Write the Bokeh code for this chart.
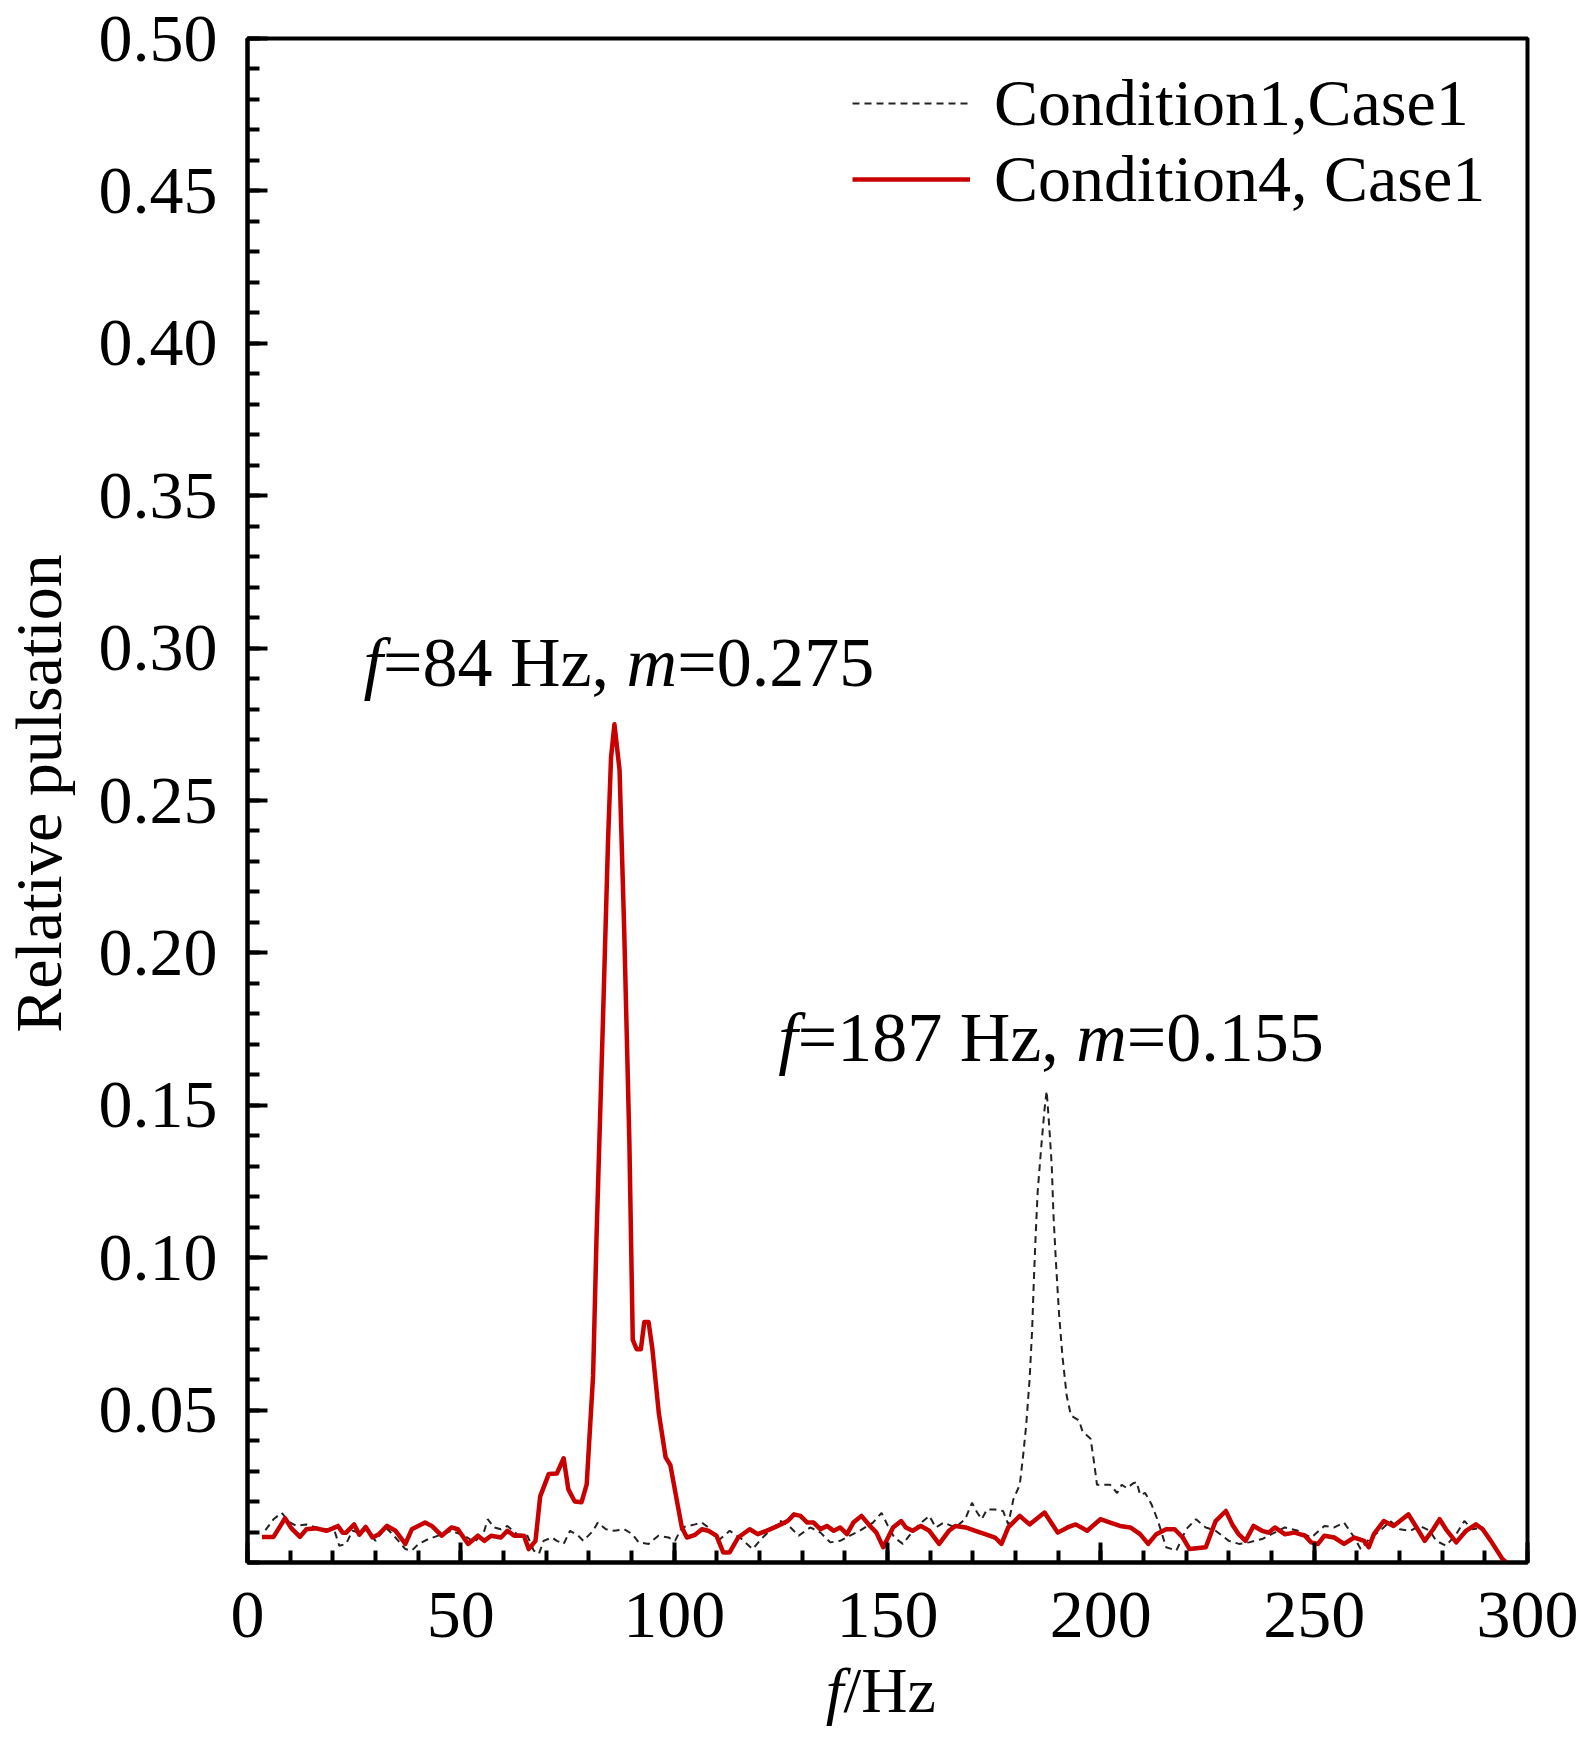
import math
from bokeh.plotting import figure
from bokeh.models import (Range1d, FixedTicker, PrintfTickFormatter, Legend, LegendItem)
from bokeh.layouts import row, column
from bokeh.core.properties import value
from bokeh.embed import file_html
from bokeh.resources import INLINE

# ---------------- data ----------------
freq_c1 = [4.2, 6.1, 8.0, 10.0, 11.5, 13.8, 16.1, 18.5, 20.4, 21.5, 23.1, 24.6, 26.2, 28.1, 30.0,
           32.4, 34.3, 37.0, 38.5, 40.1, 42.4, 44.7, 47.8, 50.9, 53.2, 55.5, 56.3, 57.8, 59.4, 60.9,
           63.2, 65.6, 67.1, 68.3, 69.4, 71.4, 72.5, 74.1, 75.6, 77.5, 78.7, 81.0, 82.1, 84.0, 86.0,
           88.3, 90.2, 91.7, 94.0, 96.3, 98.7, 100.2, 101.8, 104.9, 106.5, 108.0, 110.3, 113.0, 115.8,
           118.4, 120.4, 122.7, 125.0, 126.9, 129.2, 131.9, 134.3, 136.6, 138.9, 141.2, 143.5, 146.6,
           148.6, 150.1, 151.6, 153.6, 155.1, 157.4, 159.8, 161.3, 163.2, 165.9, 168.2, 169.8, 171.0,
           172.1, 173.3, 175.2, 177.1, 178.3, 179.5, 181.0, 181.8, 182.5, 183.3, 183.9, 184.3, 184.7,
           185.2, 186.0, 186.8, 187.3, 187.9, 188.5, 188.9, 189.5, 190.2, 191.0, 192.0, 193.0, 194.9,
           195.7, 197.6, 198.4, 199.1, 199.9, 202.2, 203.8, 204.9, 206.1, 207.6, 208.4, 209.2, 210.4,
           211.9, 213.4, 215.3, 217.7, 220.0, 222.3, 224.6, 226.9, 230.0, 232.4, 234.7, 237.8, 240.0,
           243.1, 246.2, 249.3, 252.4, 254.7, 257.0, 259.4, 260.9, 263.2, 265.5, 267.8, 270.1, 272.5,
           274.8, 277.1, 278.6, 280.9, 283.3, 285.2, 287.1, 289.5, 291.0, 292.6]
puls_c1 = [0.0106, 0.0142, 0.0163, 0.0131, 0.0120, 0.0125, 0.0115, 0.0109, 0.0104, 0.0055, 0.0061,
           0.0104, 0.0098, 0.0109, 0.0071, 0.0115, 0.0088, 0.0044, 0.0039, 0.0061, 0.0077, 0.0088,
           0.0104, 0.0088, 0.0066, 0.0104, 0.0142, 0.0115, 0.0109, 0.0120, 0.0093, 0.0088, 0.0039,
           0.0028, 0.0071, 0.0082, 0.0071, 0.0061, 0.0104, 0.0088, 0.0071, 0.0104, 0.0131, 0.0109,
           0.0104, 0.0109, 0.0093, 0.0066, 0.0061, 0.0088, 0.0082, 0.0071, 0.0115, 0.0125, 0.0131,
           0.0115, 0.0071, 0.0104, 0.0077, 0.0044, 0.0077, 0.0109, 0.0136, 0.0120, 0.0088, 0.0115,
           0.0098, 0.0066, 0.0071, 0.0088, 0.0104, 0.0131, 0.0163, 0.0120, 0.0082, 0.0061, 0.0088,
           0.0125, 0.0153, 0.0115, 0.0131, 0.0115, 0.0142, 0.0196, 0.0164, 0.0142, 0.0174, 0.0174,
           0.0169, 0.0125, 0.0207, 0.0255, 0.0352, 0.0450, 0.0600, 0.0763, 0.0925, 0.1066, 0.1217,
           0.1358, 0.1487, 0.1547, 0.1433, 0.1300, 0.1140, 0.0980, 0.0817, 0.0677, 0.0547, 0.0482,
           0.0466, 0.0430, 0.0406, 0.0330, 0.0255, 0.0255, 0.0255, 0.0228, 0.0255, 0.0244, 0.0260,
           0.0264, 0.0222, 0.0228, 0.0190, 0.0136, 0.0050, 0.0039, 0.0109, 0.0142, 0.0115, 0.0104,
           0.0071, 0.0061, 0.0066, 0.0077, 0.0093, 0.0115, 0.0104, 0.0082, 0.0120, 0.0115, 0.0131,
           0.0082, 0.0044, 0.0082, 0.0104, 0.0136, 0.0109, 0.0104, 0.0120, 0.0104, 0.0071, 0.0055,
           0.0093, 0.0136, 0.0109, 0.0115, 0.0082, 0.0050]

freq_c4 = [3.4, 6.1, 8.8, 10.3, 12.3, 13.8, 16.1, 18.5, 20.0, 21.2, 22.3, 23.1, 25.0, 26.2, 27.7,
           29.3, 30.8, 32.7, 34.7, 37.0, 38.5, 41.6, 43.2, 45.5, 47.8, 49.3, 51.7, 54.0, 55.5, 57.1,
           59.4, 60.9, 62.5, 64.8, 65.9, 67.5, 68.6, 70.6, 72.5, 74.1, 75.2, 76.7, 78.3, 79.5, 81.0,
           81.8, 83.3, 84.5, 85.2, 86.0, 87.2, 88.3, 89.5, 90.3, 91.2, 92.2, 93.0, 94.0, 94.9, 96.4,
           98.0, 99.1, 100.7, 101.8, 103.0, 104.9, 106.5, 108.0, 109.9, 111.5, 113.0, 115.0, 117.7,
           119.6, 121.6, 123.5, 125.0, 126.6, 128.1, 129.6, 131.2, 132.7, 134.3, 135.8, 137.4, 138.9,
           140.5, 142.0, 143.9, 145.9, 147.4, 149.0, 151.3, 153.2, 154.3, 155.9, 157.8, 159.8, 162.1,
           164.4, 165.9, 168.3, 170.6, 172.9, 175.2, 176.7, 178.3, 181.0, 183.3, 186.8, 189.9, 192.2,
           194.1, 196.8, 199.9, 202.2, 204.5, 206.9, 209.2, 211.1, 213.0, 215.3, 217.3, 219.2, 220.8,
           224.6, 226.9, 229.3, 230.8, 232.3, 233.9, 235.8, 237.8, 239.3, 240.8, 243.1, 245.4, 247.8,
           249.3, 250.9, 252.4, 254.7, 257.0, 259.4, 261.7, 262.8, 264.0, 266.3, 268.6, 270.1, 272.1,
           274.0, 275.9, 277.9, 279.4, 280.9, 283.3, 285.6, 287.9, 289.5, 291.4, 294.1, 295.0]
puls_c4 = [0.0084, 0.0084, 0.0145, 0.0112, 0.0084, 0.0109, 0.0112, 0.0104, 0.0112, 0.0120, 0.0098,
           0.0098, 0.0125, 0.0091, 0.0117, 0.0082, 0.0093, 0.0120, 0.0104, 0.0061, 0.0109, 0.0131,
           0.0120, 0.0088, 0.0115, 0.0109, 0.0061, 0.0088, 0.0071, 0.0088, 0.0082, 0.0104, 0.0088,
           0.0088, 0.0044, 0.0071, 0.0217, 0.0290, 0.0292, 0.0342, 0.0240, 0.0200, 0.0198, 0.0256,
           0.0613, 0.1065, 0.1775, 0.2367, 0.2640, 0.2750, 0.2600, 0.2070, 0.1380, 0.0730, 0.0700,
           0.0700, 0.0789, 0.0789, 0.0700, 0.0490, 0.0345, 0.0320, 0.0198, 0.0115, 0.0082, 0.0091,
           0.0109, 0.0104, 0.0088, 0.0033, 0.0033, 0.0082, 0.0109, 0.0093, 0.0104, 0.0115, 0.0125,
           0.0136, 0.0158, 0.0153, 0.0131, 0.0131, 0.0109, 0.0120, 0.0104, 0.0115, 0.0093, 0.0131,
           0.0153, 0.0120, 0.0098, 0.0050, 0.0115, 0.0136, 0.0115, 0.0104, 0.0120, 0.0104, 0.0061,
           0.0104, 0.0120, 0.0115, 0.0104, 0.0093, 0.0082, 0.0061, 0.0115, 0.0153, 0.0125, 0.0164,
           0.0098, 0.0115, 0.0125, 0.0104, 0.0142, 0.0131, 0.0120, 0.0115, 0.0093, 0.0061, 0.0093,
           0.0109, 0.0109, 0.0082, 0.0044, 0.0050, 0.0136, 0.0169, 0.0125, 0.0093, 0.0071, 0.0120,
           0.0104, 0.0098, 0.0115, 0.0093, 0.0098, 0.0088, 0.0066, 0.0061, 0.0088, 0.0082, 0.0061,
           0.0082, 0.0071, 0.0050, 0.0093, 0.0136, 0.0120, 0.0136, 0.0158, 0.0115, 0.0071, 0.0109,
           0.0142, 0.0109, 0.0066, 0.0104, 0.0125, 0.0109, 0.0071, 0.0012, 0.0000]

series_names = ["Condition1,Case1", "Condition4, Case1"]
x_ticks = [0, 50, 100, 150, 200, 250, 300]
y_ticks = [0.05, 0.10, 0.15, 0.20, 0.25, 0.30, 0.35, 0.40, 0.45, 0.50]
x_title = [(True, "f"), (False, "/Hz")]
y_title = "Relative pulsation"
# annotation pieces: (italic?, text), anchored (text middle) at (frequency, pulsation)
ann1 = [(True, "f"), (False, "=84 Hz, "), (True, "m"), (False, "=0.275")]
ann1_pos = (27.2, 0.2952)
ann2 = [(True, "f"), (False, "=187 Hz, "), (True, "m"), (False, "=0.155")]
ann2_pos = (124.4, 0.1723)

FONT = "Liberation Serif"
TOTAL_H = 1726
YT_W = 90                     # width of the y-title strip
COL_W = 1579 - YT_W           # 1489
FRAME_L = 247 - YT_W          # 157
FRAME_R_BORDER = 52
MAIN_H = 1654                 # frame bottom at 1562, room for x tick labels
XT_H = TOTAL_H - MAIN_H       # strip for the x title

CHAR_W = {"f": 0.278, "m": 0.722, "=": 0.564, " ": 0.25, "H": 0.722, "z": 0.444, ",": 0.25,
          ".": 0.25, "/": 0.278}
def text_w(s, size):
    return sum(CHAR_W.get(c, 0.5) for c in s) * size

# ---------------- main plot ----------------
p = figure(width=COL_W, height=MAIN_H, output_backend="svg", toolbar_location=None,
           x_range=Range1d(0, 300), y_range=Range1d(0, 0.5),
           min_border_left=FRAME_L, min_border_right=FRAME_R_BORDER,
           min_border_top=38, min_border_bottom=MAIN_H - 1562)
p.grid.visible = False
p.background_fill_color = "white"
p.border_fill_color = "white"
p.outline_line_color = "black"
p.outline_line_width = 4

for ax in (p.xaxis[0], p.yaxis[0]):
    ax.axis_line_width = 4
    ax.axis_line_color = "black"
    ax.major_tick_in = 20
    ax.major_tick_out = 0
    ax.minor_tick_in = 12
    ax.minor_tick_out = 0
    ax.major_tick_line_width = 4
    ax.minor_tick_line_width = 4
    ax.major_tick_line_color = "black"
    ax.minor_tick_line_color = "black"
    ax.major_label_text_font = FONT
    ax.major_label_text_font_size = "68px"
    ax.major_label_text_color = "black"

p.xaxis[0].ticker = FixedTicker(ticks=x_ticks, minor_ticks=list(range(0, 301, 10)))
p.xaxis[0].formatter = PrintfTickFormatter(format="%d")
p.xaxis[0].major_label_standoff = 30
p.yaxis[0].ticker = FixedTicker(ticks=y_ticks, minor_ticks=[i / 100 for i in range(0, 51)])
p.yaxis[0].formatter = PrintfTickFormatter(format="%.2f")
p.yaxis[0].major_label_standoff = 30

r1 = p.line(freq_c1, puls_c1, line_color="#222222", line_width=2, line_dash="7 5")
r4 = p.line(freq_c4, puls_c4, line_color="#c80000", line_width=4.5, line_join="round")

legend = Legend(items=[LegendItem(label=series_names[0], renderers=[r1]),
                       LegendItem(label=series_names[1], renderers=[r4])],
                location=(605, 1345), orientation="vertical",
                label_text_font=FONT, label_text_font_size="66px", label_text_color="black",
                glyph_width=118, glyph_height=72, label_height=72, label_standoff=24,
                spacing=0, padding=0, margin=0,
                border_line_alpha=0, background_fill_alpha=0)
p.add_layout(legend)

def add_rich(fig, pieces, pos, size):
    off = 0.0
    for italic, t in pieces:
        fig.text(x=[pos[0]], y=[pos[1]], text=[t], x_offset=off,
                 text_font=value(FONT), text_font_size=f"{size}px",
                 text_font_style="italic" if italic else "normal", text_color="black",
                 text_align="left", text_baseline="middle")
        off += text_w(t, size)

add_rich(p, ann1, ann1_pos, 70)
add_rich(p, ann2, ann2_pos, 70)

# ---------------- x-title strip (frame aligned with the main frame) ----------------
px = figure(width=COL_W, height=XT_H, output_backend="svg", toolbar_location=None,
            x_range=Range1d(0, 300), y_range=Range1d(0, XT_H),
            x_axis_type=None, y_axis_type=None,
            min_border_left=FRAME_L, min_border_right=FRAME_R_BORDER,
            min_border_top=0, min_border_bottom=0)
px.grid.visible = False
px.outline_line_color = None
add_rich(px, x_title, (135.5, 36), 64)

# ---------------- y-title strip ----------------
py = figure(width=YT_W, height=TOTAL_H, output_backend="svg", toolbar_location=None,
            x_range=Range1d(0, YT_W), y_range=Range1d(0, TOTAL_H),
            x_axis_type=None, y_axis_type=None,
            min_border_left=0, min_border_right=0, min_border_top=0, min_border_bottom=0)
py.grid.visible = False
py.outline_line_color = None
py.text(x=[38], y=[TOTAL_H - 793], text=[y_title], angle=math.pi / 2,
        text_font=value(FONT), text_font_size="66px", text_color="black",
        text_align="center", text_baseline="middle")

layout = row(py, column(p, px, spacing=0), spacing=0)
open("out.html", "w").write(file_html(layout, INLINE))
